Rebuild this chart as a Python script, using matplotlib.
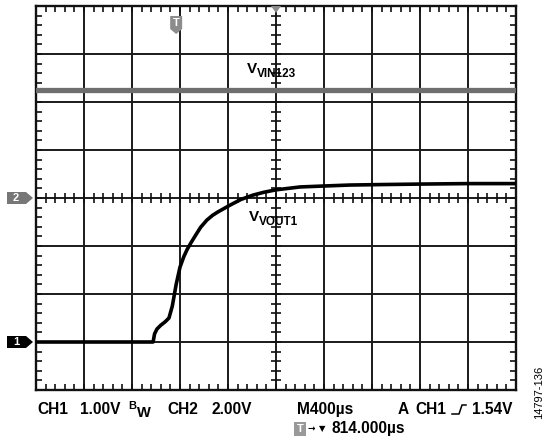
import numpy as np
import matplotlib.pyplot as plt
from matplotlib.patches import Polygon
from matplotlib.lines import Line2D

plt.rcParams['font.family'] = ['Liberation Sans', 'DejaVu Sans']
plt.rcParams['font.weight'] = 'bold'

# scope screen in divisions (10 x 8)
vin_t = [0.0, 10.0]
vin_v = [6.25, 6.25]

vout_t = [0.0, 2.44, 2.47, 2.52, 2.60, 2.69, 2.77, 2.84, 2.92, 3.00, 3.08,
          3.15, 3.23, 3.31, 3.43, 3.56, 3.68, 3.79, 4.04, 4.27, 4.52, 4.75,
          5.00, 5.50, 6.00, 6.54, 7.20, 8.00, 9.00, 10.0]
vout_v = [1.00, 1.00, 1.17, 1.27, 1.35, 1.42, 1.50, 1.75, 2.20, 2.56, 2.78,
          2.93, 3.07, 3.20, 3.39, 3.54, 3.64, 3.71, 3.85, 3.97, 4.06, 4.12,
          4.17, 4.23, 4.25, 4.27, 4.28, 4.29, 4.30, 4.30]

ch1_ref = 1.0
ch2_ref = 4.0
trig_pos = 2.92

W, H = 545, 442
fig = plt.figure(figsize=(W / 100, H / 100), dpi=100)
ax = fig.add_axes([36 / W, 1 - 390 / H, 480 / W, 384 / H])
ax.set_xlim(0, 10)
ax.set_ylim(0, 8)


def fy(px):
    # pixel row from top -> figure fraction
    return 1 - px / H


for x in range(1, 10):
    ax.axvline(x, color='#1a1a1a', lw=1.4, zorder=1)
for y in range(1, 8):
    ax.axhline(y, color='#1a1a1a', lw=1.4, zorder=1)
for s in ax.spines.values():
    s.set_linewidth(1.7)
    s.set_color('#111111')

ax.set_xticks(np.arange(0, 10.01, 0.2))
ax.set_yticks(np.arange(0, 8.01, 0.2))
ax.tick_params(direction='in', length=4, width=1.2, color='#111111',
               top=True, right=True, labelbottom=False, labelleft=False)
# ticks along the centre cross
cx = np.arange(0.2, 10, 0.2)
cy = np.arange(0.2, 8, 0.2)
ax.plot(cx, np.full_like(cx, 4.0), ls='none', marker='|', ms=7, mew=1.2,
        color='#111111', zorder=1)
ax.plot(np.full_like(cy, 5.0), cy, ls='none', marker='_', ms=7, mew=1.2,
        color='#111111', zorder=1)

ax.plot(vin_t, vin_v, color='#6e6e6e', lw=3.8, zorder=3)
ax.plot(vout_t, vout_v, color='black', lw=2.6, zorder=4,
        solid_joinstyle='round')

# trace labels
fig.text(247 / W, fy(73), 'V', fontsize=11, va='baseline')
fig.text(257 / W, fy(77), 'VIN123', fontsize=8.5, va='baseline')
fig.text(249 / W, fy(221), 'V', fontsize=11, va='baseline')
fig.text(259 / W, fy(225), 'VOUT1', fontsize=8.5, va='baseline')

# channel reference markers on the left
for lvl, lab, col in [(ch2_ref, '2', '#777777'), (ch1_ref, '1', 'black')]:
    yf = ax.transData.transform((0, lvl))[1] / H
    x0, x1, x2 = 7 / W, 26 / W, 33 / W
    h = 6 / H
    fig.patches.append(Polygon([[x0, yf - h], [x1, yf - h], [x2, yf],
                                [x1, yf + h], [x0, yf + h]], closed=True,
                               transform=fig.transFigure, facecolor=col,
                               edgecolor='none'))
    fig.text(16 / W, yf, lab, color='white', fontsize=8, ha='center',
             va='center')

# trigger marker at top
xt = ax.transData.transform((trig_pos, 0))[0] / W
tw = 6 / W
fig.patches.append(Polygon([[xt - tw, fy(16)], [xt + tw, fy(16)],
                            [xt + tw, fy(29)], [xt, fy(34)],
                            [xt - tw, fy(29)]], closed=True,
                           transform=fig.transFigure, facecolor='#8c8c8c',
                           edgecolor='none'))
fig.text(xt, fy(23), 'T', color='white', fontsize=8, ha='center',
         va='center')
xc = ax.transData.transform((5, 0))[0] / W
fig.patches.append(Polygon([[xc - 5 / W, fy(6)], [xc + 5 / W, fy(6)],
                            [xc, fy(13)]], closed=True,
                           transform=fig.transFigure, facecolor='#8c8c8c',
                           edgecolor='none'))

# bottom readouts
fs = 11.2
b1 = fy(414)
b2 = fy(433)
fig.text(37 / W, b1, 'CH1', fontsize=fs, va='baseline')
fig.text(80 / W, b1, '1.00V', fontsize=fs, va='baseline')
fig.text(128 / W, fy(409), 'B', fontsize=8, va='baseline')
fig.text(137 / W, fy(417), 'W', fontsize=10.5, va='baseline')
fig.text(167 / W, b1, 'CH2', fontsize=fs, va='baseline')
fig.text(211 / W, b1, '2.00V', fontsize=fs, va='baseline')
fig.text(297 / W, b1, 'M400µs', fontsize=fs, va='baseline')
fig.text(398 / W, b1, 'A', fontsize=fs, va='baseline')
fig.text(415 / W, b1, 'CH1', fontsize=fs, va='baseline')
fig.add_artist(Line2D([452 / W, 459 / W, 462 / W, 466 / W],
                      [fy(414), fy(414), fy(405), fy(405)],
                      transform=fig.transFigure, color='black', lw=1.1))
fig.text(472 / W, b1, '1.54V', fontsize=fs, va='baseline')
fig.text(300 / W, fy(429), 'T', fontsize=8, va='center', ha='center',
         color='white',
         bbox=dict(boxstyle='square,pad=0.2', fc='#999999', ec='none'))
fig.text(308 / W, fy(429), '→', fontsize=6.5, va='center',
         family='DejaVu Sans')
fig.text(319 / W, fy(429), '▼', fontsize=6, va='center',
         family='DejaVu Sans')
fig.text(332 / W, b2, '814.000µs', fontsize=fs, va='baseline')
fig.text(539 / W, fy(392), '14797-136', fontsize=8, rotation=90,
         ha='center', va='center', weight='normal')

fig.savefig('out.png', dpi=100)
